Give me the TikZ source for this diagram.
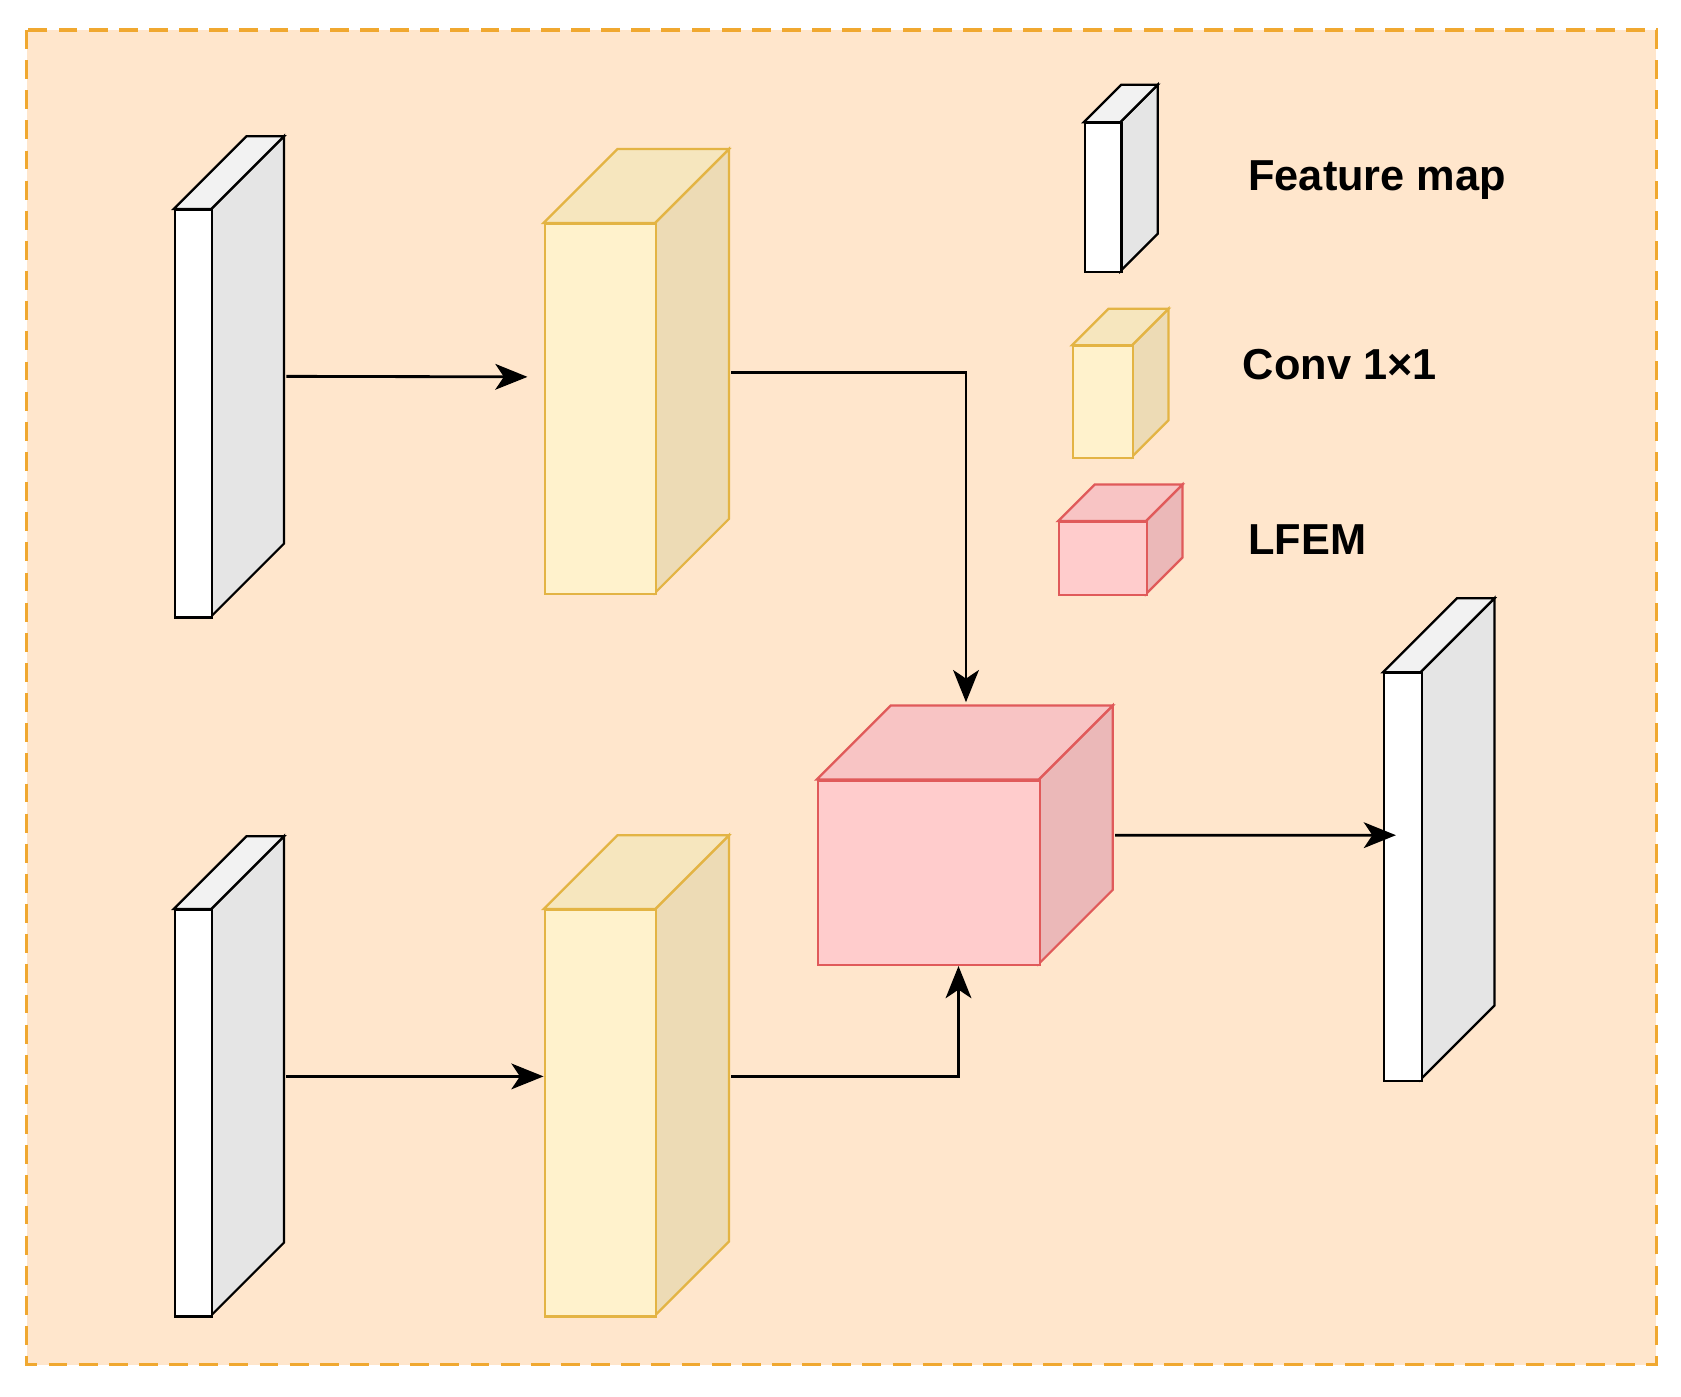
\documentclass[tikz,border=0pt]{standalone}
\usepackage{fontspec}
\setmainfont{Liberation Sans}
\usetikzlibrary{arrows.meta,calc}
\definecolor{bgfill}{HTML}{FFE6CC}
\definecolor{bgline}{HTML}{F0A830}
\tikzset{
 fm/.style={fill=white,draw=black},
 fmside/.style={fill=black!10,draw=black},
 fmtop/.style={fill=black!5,draw=black},
 cv/.style={fill=cvf,draw=cvl},
 cvside/.style={fill=cvs,draw=cvl},
 cvtop/.style={fill=cvt,draw=cvl},
 lf/.style={fill=lff,draw=lfl},
 lfside/.style={fill=lfs,draw=lfl},
 lftop/.style={fill=lft,draw=lfl},
 arr/.style={-{Stealth[length=0.3cm,width=0.24cm,inset=0.08cm]},line width=0.75pt},
 lbl/.style={font=\bfseries\fontsize{11.5}{13}\selectfont,anchor=west}
}
\definecolor{cvf}{HTML}{FFF2CC}\definecolor{cvs}{HTML}{EDDBB5}\definecolor{cvt}{HTML}{F6E6BE}\definecolor{cvl}{HTML}{E3B444}
\definecolor{lff}{HTML}{FFCCCC}\definecolor{lfs}{HTML}{EBB8B8}\definecolor{lft}{HTML}{F8C4C4}\definecolor{lfl}{HTML}{E05A5A}
% #1 name, #2 left x, #3 top y (px), #4 w, #5 h, #6 depth, #7 style prefix
\newcommand\mycube[7]{%
 \draw[#7side,line width=0.6pt] (#2+#4,-#3) -- ++(#6,#6) -- ++(0,-#5) -- ++(-#6,-#6) -- cycle;
 \draw[#7top,line width=0.6pt] (#2,-#3) -- ++(#6,#6) -- ++(#4,0) -- ++(-#6,-#6) -- cycle;
 \node[#7,line width=0.6pt,minimum width=#4 cm,minimum height=#5 cm,inner sep=0,anchor=north west] (#1) at (#2,-#3) {};
 \coordinate (#1-r) at ($(#1.east)+(#6,0)$);
}
\begin{document}
\begin{tikzpicture}[x=1cm,y=1cm]
\useasboundingbox (0,0) rectangle (15.68,-13.03);
\draw[fill=bgfill,draw=bgline,dashed,line width=0.9pt,dash pattern=on 5pt off 3pt] (0.25,-0.28) rectangle (15.45,-12.73);
\mycube{fm1}{1.62}{1.95}{0.35}{3.80}{0.68}{fm}
\mycube{c1}{5.07}{2.08}{1.04}{3.45}{0.69}{cv}
\mycube{fm2}{1.62}{8.48}{0.35}{3.79}{0.68}{fm}
\mycube{c2}{5.07}{8.48}{1.04}{3.79}{0.69}{cv}
\mycube{L}{7.62}{7.27}{2.07}{1.72}{0.69}{lf}
\mycube{out}{12.90}{6.27}{0.35}{3.80}{0.69}{fm}
% legend
\mycube{lg1}{10.11}{1.14}{0.34}{1.39}{0.35}{fm}
\mycube{lg2}{10.00}{3.22}{0.56}{1.04}{0.34}{cv}
\mycube{lg3}{9.87}{4.86}{0.82}{0.68}{0.34}{lf}
\node[lbl] (t1) at (11.52,-1.68) {Feature map};
\node[lbl] (t2) at (11.47,-3.40) {Conv 1×1};
\node[lbl] (t3) at (11.52,-5.03) {LFEM};
% connectors
\draw[arr] ([yshift=0.35cm]fm1-r) -- ([xshift=-0.15cm,yshift=0.30cm]c1.west);
\draw[arr] ([yshift=0.345cm]fm2-r) -- ([yshift=0.345cm]c2.west);
\draw[arr] ([yshift=0.34cm]c1-r) -| ([xshift=0.345cm,yshift=0.72cm]L.north);
\draw[arr] ([yshift=0.345cm]c2-r) -| ([xshift=0.275cm]L.south);
\draw[arr] ([yshift=0.35cm]L-r) -- ([xshift=-0.25cm,yshift=0.39cm]out.east);
\end{tikzpicture}
\end{document}
